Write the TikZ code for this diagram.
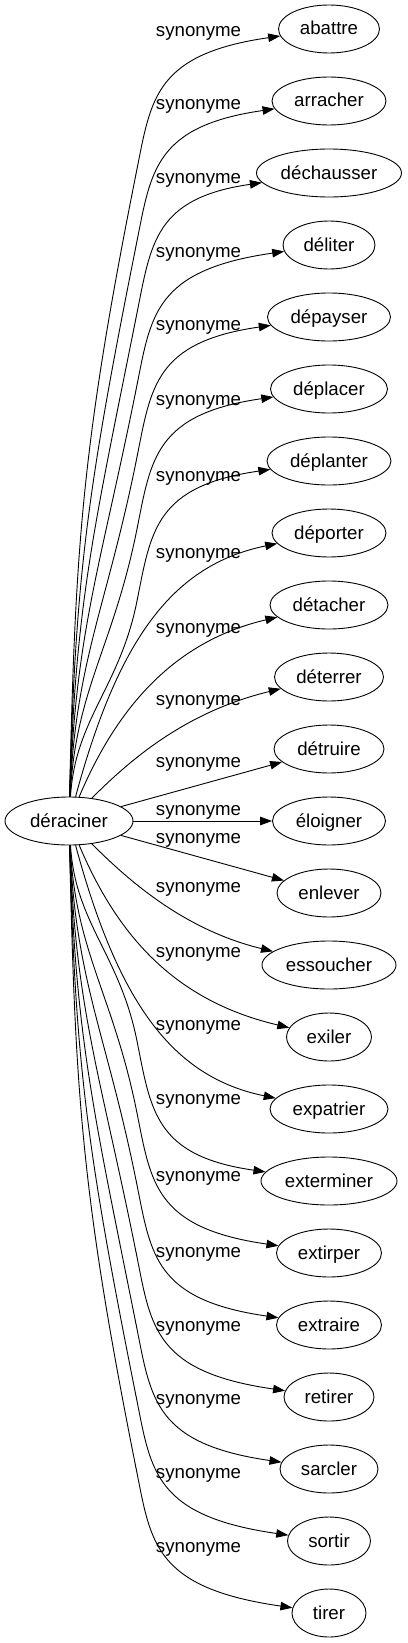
\documentclass[tikz,border=0pt]{standalone}
\usepackage{fontspec}
\setmainfont{Liberation Sans}
\usetikzlibrary{shapes.geometric,arrows.meta}
\begin{document}
\begin{tikzpicture}[x=1pt,y=-1pt,
  word/.style={ellipse, draw, line width=0.9pt, inner sep=0pt, minimum height=48pt,
    text height=16pt, text depth=4pt, font=\fontsize{18.67pt}{20pt}\selectfont},
  rel/.style={anchor=base, inner sep=0pt, font=\fontsize{18.67pt}{20pt}\selectfont},
  link/.style={draw, line width=0.9pt, -{Triangle[length=12pt,width=8.5pt]}}]
\useasboundingbox (0,0) rectangle (407,1643);
\node[word, minimum width=128pt] (root) at (69,821) {déraciner};
\foreach \i/\txt/\w in {0/abattre/101, 1/arracher/114, 2/déchausser/145, 3/déliter/92,
  4/dépayser/123, 5/déplacer/117, 6/déplanter/124, 7/déporter/114, 8/détacher/118,
  9/déterrer/109, 10/détruire/110, 11/éloigner/113, 12/enlever/104, 13/essoucher/134,
  14/exiler/85, 15/expatrier/118, 16/exterminer/136, 17/extirper/105, 18/extraire/105,
  19/retirer/90, 20/sarcler/98, 21/sortir/83, 22/tirer/74}
  \node[word, minimum width=\w pt] (n\i) at (329,{29+72*\i}) {\txt};
% long edges
\foreach \i in {0,1,2,3,4,5,6,16,17,18,19,20,21,22}{
  \pgfmathsetmacro\yt{29+72*\i}
  \pgfmathsetmacro\s{(\i>11)?1:-1}
  \pgfmathsetmacro\H{abs(\yt-821)}
  \pgfmathsetmacro\k{0.45*(\H-164)}
  \pgfmathsetmacro\Sy{821+\s*24}
  \pgfmathsetmacro\Ay{\yt-\s*140}
  \pgfmathsetmacro\Qay{\Sy+0.4*(\Ay-\Sy)}
  \pgfmathsetmacro\Qbx{137-0.196*\k}
  \pgfmathsetmacro\Qby{\Ay-\s*0.981*\k}
  \pgfmathsetmacro\Cay{\yt-\s*70}
  \pgfmathsetmacro\Cby{\yt-\s*25}
  \draw[link] (root) .. controls (75.25,\Qay) and (\Qbx,\Qby) .. (137,\Ay)
    .. controls (151,\Cay) and (155,\Cby) .. (n\i);
}
% middle edges
\foreach \i/\ax/\ay/\bx/\by in {7/118/107/172/32, 8/120/95/180/35, 9/130/83/185/35,
  15/118/107/172/32, 14/120/95/180/35, 13/130/83/185/35}{
  \pgfmathsetmacro\yt{29+72*\i}
  \pgfmathsetmacro\s{(\i>11)?1:-1}
  \pgfmathsetmacro\Pay{\yt-\s*\ay}
  \pgfmathsetmacro\Pby{\yt-\s*\by}
  \draw[link] (root) .. controls (\ax,\Pay) and (\bx,\Pby) .. (n\i);
}
\foreach \i in {10,11,12}
  \draw[link] (root) -- (n\i);
% labels
\foreach \i/\b in {0/37, 1/110, 2/183, 3/257, 4/330, 5/405, 6/481, 7/558, 8/633,
  9/705, 10/767, 11/815, 12/843, 13/892, 14/957, 15/1030, 16/1104, 17/1181,
  18/1257, 19/1331, 20/1404, 21/1478, 22/1552}
  \node[rel] (l\i) at (198.5,\b) {synonyme};
\end{tikzpicture}
\end{document}
